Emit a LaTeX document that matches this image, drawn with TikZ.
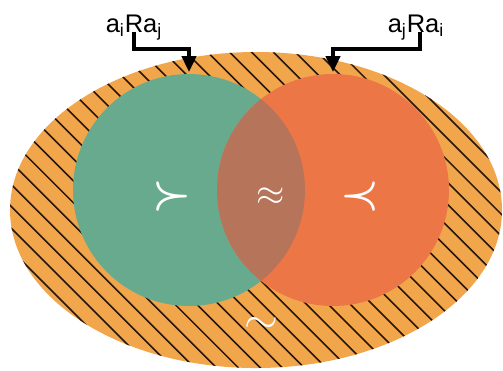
\documentclass[tikz,border=0pt]{standalone}
\usepackage{fontspec}
\setmainfont{Liberation Sans}
\usetikzlibrary{arrows.meta}
\definecolor{outerorange}{RGB}{242,166,75}
\definecolor{setgreen}{RGB}{104,170,142}
\definecolor{setorange}{RGB}{236,118,70}
\definecolor{lenscol}{RGB}{182,117,90}
\definecolor{hatchcol}{RGB}{40,22,12}
\tikzset{
    hatch/.style={hatchcol,line width=0.9pt},
    rel/.style={font=\fontsize{14.5}{17}\selectfont,inner sep=0pt,anchor=base},
    conn/.style={line width=2.1pt,-{Triangle[length=9pt,width=8pt]}},
    sym/.style={white,font=\fontsize{21}{21}\selectfont},
    bigsym/.style={white,font=\fontsize{28}{28}\selectfont\boldmath}
}
\begin{document}
\begin{tikzpicture}[x=0.02cm,y=-0.02cm]
                \useasboundingbox (0,0) rectangle (503,370);
                \coordinate (ctr) at (256,210);
                \fill[outerorange] (ctr) ellipse (246 and 158);
                \begin{scope}
                    \clip (ctr) ellipse (246 and 158);
                    \foreach \k in {-14,...,14}
                        \draw[hatch] (ctr) ++(-45:\k*15.5) ++(45:-360) -- ++(45:720);
                \end{scope}
                \fill[setgreen] (189,190) circle (116);
                \fill[setorange] (333,190) circle (116);
                \begin{scope}
                    \clip (189,190) circle (116);
                    \fill[lenscol] (333,190) circle (116);
                \end{scope}
                \node[bigsym] (gt) at (172,197) {$\succ$};
                \node[sym] (eq) at (271,197) {$\approx$};
                \node[bigsym] (lt) at (360,197) {$\prec$};
                \node[sym,font=\fontsize{25}{25}\selectfont] (in) at (261,325) {$\sim$};
                \coordinate (gtop) at (189,72);
                \coordinate (otop) at (333,72);
                \node[rel] (lij) at (134,32) {a\textsubscript{i}Ra\textsubscript{j}};
                \node[rel] (lji) at (416,32) {a\textsubscript{j}Ra\textsubscript{i}};
                \draw[conn] (lij.base) -- ++(0,17) -| (gtop);
                \draw[conn] (lji.base) ++(4,0) -- ++(0,17) -| (otop);
            \end{tikzpicture}
\end{document}
